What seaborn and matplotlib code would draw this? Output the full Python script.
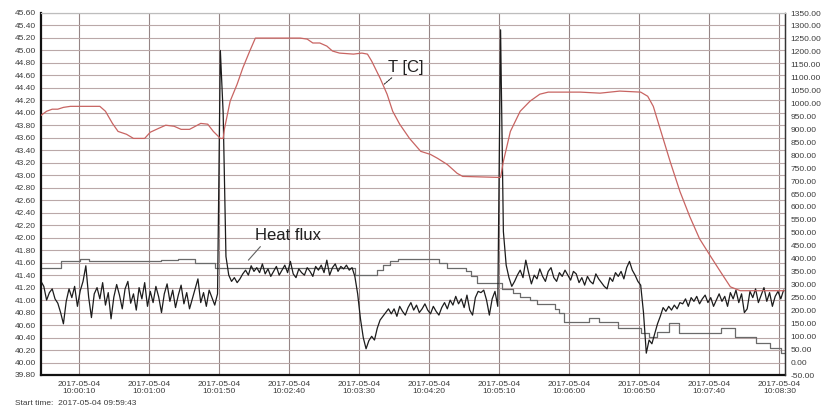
import numpy as np
import pandas as pd
import matplotlib
matplotlib.use("Agg")
import matplotlib.pyplot as plt
import seaborn as sns
from datetime import datetime

# ---- recording metadata -------------------------------------------------
DATE = "2017-05-04"
START_TIME = "09:59:43"
END_TIME = "10:08:34"
XTICK_TIMES = ["10:00:10", "10:01:00", "10:01:50", "10:02:40", "10:03:30",
               "10:04:20", "10:05:10", "10:06:00", "10:06:50", "10:07:40",
               "10:08:30"]

# ---- heat-flux channel (left scale), one sample every 2 s ----------------
FLUX_SAMPLE_S = 2
flux_values = [
    # steady before first exposure
    41.30, 41.22, 41.00, 41.12, 41.18, 41.02, 40.95, 40.80, 40.62, 40.98,
    41.18, 41.04, 41.22, 40.90, 41.15, 41.30, 41.55, 41.05, 40.72, 41.10,
    41.20, 41.02, 41.28, 40.92, 41.12, 40.70, 41.05, 41.25, 41.08, 40.86,
    41.18, 41.30, 40.95, 41.10, 40.84, 41.20, 41.02, 41.28, 40.90, 41.14,
    40.96, 41.22, 41.05, 40.80, 41.10, 41.26, 40.98, 41.16, 40.88, 41.08,
    41.24, 40.94, 41.12, 40.86, 41.02, 41.18, 41.34, 40.96, 41.12, 40.90,
    41.16, 41.04, 40.92, 41.10,
    # first spike
    45.00, 44.00, 41.70,
    # exposure plateau
    41.40, 41.30, 41.36, 41.28, 41.34, 41.42, 41.48, 41.40, 41.55, 41.46,
    41.52, 41.44, 41.58, 41.42, 41.50, 41.38, 41.46, 41.54, 41.40, 41.48,
    41.56, 41.44, 41.62, 41.42, 41.36, 41.50, 41.44, 41.40, 41.52, 41.46,
    41.38, 41.54, 41.48, 41.56, 41.44, 41.64, 41.40, 41.52, 41.58, 41.46,
    41.54, 41.50, 41.56, 41.48, 41.52,
    # drop and recovery
    41.38, 41.10, 40.70, 40.40, 40.22, 40.35, 40.42, 40.36, 40.55, 40.68,
    40.74, 40.80, 40.86,
    40.78, 40.86, 40.74, 40.90, 40.82, 40.76, 40.88, 40.96, 40.84, 40.92,
    40.80, 40.86, 40.94, 40.84, 40.78, 40.90, 40.82, 40.76, 40.88, 40.96,
    40.86, 41.00, 40.92, 41.06, 40.94, 41.02, 40.88, 41.08, 40.84, 40.76,
    41.04, 41.14, 41.12, 41.16, 41.00, 40.76, 41.02, 41.14, 40.90,
    # second spike
    45.33, 42.10, 41.56, 41.36,
    # second exposure plateau
    41.22, 41.30, 41.40, 41.48, 41.36, 41.64, 41.44, 41.26, 41.40, 41.34,
    41.50, 41.38, 41.30, 41.46, 41.52, 41.36, 41.30, 41.44, 41.38, 41.48,
    41.40, 41.32, 41.46, 41.42, 41.28, 41.36, 41.24, 41.38, 41.30, 41.26,
    41.42, 41.34, 41.28, 41.22, 41.18, 41.36, 41.30, 41.44, 41.38, 41.46,
    41.34, 41.52, 41.62, 41.48, 41.40, 41.30, 41.24,
    # drop and recovery
    40.80, 40.15, 40.36, 40.30, 40.46, 40.62, 40.74, 40.88, 40.82, 40.90,
    40.84,
    40.92, 40.86, 40.96, 40.94, 41.02, 40.90, 41.04, 40.98, 41.06, 40.94,
    41.02, 41.08, 40.96, 41.04, 40.90, 41.00, 41.10, 40.98, 41.06, 40.90,
    41.12, 41.02, 41.16, 40.96, 41.10, 40.80, 40.86, 41.14, 41.04, 41.18,
    40.96, 41.08, 41.20, 40.98, 41.12, 40.90, 41.06, 41.14, 41.02, 41.16,
]

# ---- reference channel (left scale), logged on change -------------------
ref_t = [0, 14, 28, 34, 86, 98, 110, 124, 224, 240, 244, 249, 255, 284,
         290, 303, 307, 311, 329, 337, 342, 349, 354, 367, 370, 373, 391,
         398, 412, 428, 434, 440, 448, 455, 485, 495, 510, 520, 528, 531]
ref_v = [41.52, 41.62, 41.66, 41.62, 41.64, 41.66, 41.60, 41.51, 41.40,
         41.48, 41.56, 41.63, 41.66, 41.59, 41.52, 41.46, 41.38, 41.27,
         41.18, 41.12, 41.05, 41.00, 40.94, 40.86, 40.79, 40.65, 40.71,
         40.65, 40.55, 40.47, 40.41, 40.49, 40.63, 40.47, 40.55, 40.41,
         40.31, 40.23, 40.15, 40.15]

# ---- furnace temperature T [C] (right scale) ----------------------------
temp_t = [0, 4, 8, 12, 16, 21, 42, 46, 51, 55, 61, 66, 74, 78, 84, 89, 95,
          100, 106, 114, 119, 123, 128, 130, 131, 135, 140, 144, 149, 153,
          185, 190, 194, 199, 204, 208, 213, 223, 229, 233, 236, 242, 247,
          251, 256, 263, 271, 278, 283, 290, 297, 301, 328, 330, 335, 342,
          349, 356, 362, 385, 399, 413, 428, 433, 437, 442, 449, 456, 463,
          470, 478, 485, 492, 499, 531]
temp_v = [954, 970, 978, 978, 985, 989, 989, 970, 923, 892, 881, 865, 865,
          889, 904, 916, 912, 900, 900, 923, 920, 892, 865, 865, 904, 1009,
          1075, 1137, 1203, 1253, 1253, 1249, 1234, 1234, 1222, 1203, 1195,
          1191, 1195, 1191, 1164, 1098, 1036, 970, 920, 865, 815, 803, 788,
          764, 730, 718, 714, 776, 892, 970, 1009, 1036, 1044, 1044, 1040,
          1048, 1044, 1028, 989, 900, 776, 660, 563, 477, 408, 349, 291,
          276, 276]


def seconds_from_start(clock):
    t0 = datetime.strptime(START_TIME, "%H:%M:%S")
    return (datetime.strptime(clock, "%H:%M:%S") - t0).total_seconds()


flux = pd.DataFrame({"t": np.arange(len(flux_values)) * FLUX_SAMPLE_S,
                     "v": flux_values})
ref = pd.DataFrame({"t": ref_t, "v": ref_v})
temp = pd.DataFrame({"t": temp_t, "T": temp_v})

sns.set_style("white")
plt.rcParams["font.family"] = ["Liberation Sans", "DejaVu Sans"]

LABEL_COLOR = "#3c3c3c"
GRID_H = "#baa8a8"
GRID_V = "#958585"

fig, ax = plt.subplots(figsize=(8.32, 4.15), dpi=100)
fig.subplots_adjust(left=41 / 832, right=785 / 832,
                    bottom=1 - 375 / 415, top=1 - 13 / 415)

sns.lineplot(data=ref, x="t", y="v", ax=ax, color="#6a6a6a", lw=0.9,
             drawstyle="steps-post", estimator=None, sort=False)
sns.lineplot(data=flux, x="t", y="v", ax=ax, color="#1c1c1c", lw=0.9,
             estimator=None, sort=False)

ax2 = ax.twinx()
sns.lineplot(data=temp, x="t", y="T", ax=ax2, color="#c86462", lw=0.9,
             estimator=None, sort=False)

# left scale
ax.set_ylim(39.8, 45.6)
left_ticks = np.round(np.arange(39.8, 45.6001, 0.2), 2)
ax.set_yticks(left_ticks)
ax.set_yticklabels([f"{v:.2f}" for v in left_ticks])

# right scale
ax2.set_ylim(-50, 1350)
right_ticks = np.arange(-50, 1351, 50)
ax2.set_yticks(right_ticks)
ax2.set_yticklabels([f"{v:.2f}" for v in right_ticks])

# time axis
ax.set_xlim(0, seconds_from_start(END_TIME))
ax.set_xticks([seconds_from_start(c) for c in XTICK_TIMES])
ax.set_xticklabels([f"{DATE}\n{c}" for c in XTICK_TIMES], linespacing=1.15)

for a in (ax, ax2):
    a.set_xlabel("")
    a.set_ylabel("")
ax.tick_params(axis="both", length=0, labelsize=6, labelcolor=LABEL_COLOR)
ax.tick_params(axis="y", pad=3.5)
ax.tick_params(axis="x", pad=4)
ax2.tick_params(axis="y", length=0, labelsize=6, labelcolor=LABEL_COLOR,
                pad=4)

ax.grid(True, axis="y", color=GRID_H, lw=0.8)
ax.grid(True, axis="x", color=GRID_V, lw=0.8)
ax2.grid(False)

ax.spines["left"].set_color("#111111")
ax.spines["left"].set_linewidth(1.6)
ax.spines["bottom"].set_color("#111111")
ax.spines["bottom"].set_linewidth(1.6)
ax2.spines["right"].set_color("#333333")
ax2.spines["right"].set_linewidth(1.0)
for a in (ax, ax2):
    a.spines["top"].set_color("#bdbdbd")
    a.spines["top"].set_linewidth(0.8)
ax2.spines["left"].set_visible(False)
ax2.spines["bottom"].set_visible(False)

# channel callouts
ax2.annotate("T [C]", xy=(245, 1075), xytext=(248, 1141),
             ha="left", va="center", fontsize=12, color="#202020",
             arrowprops=dict(arrowstyle="-", color="#303030", lw=0.8,
                             ls=(0, (1.5, 1.0)), shrinkA=0, shrinkB=0,
                             relpos=(0.2, 0.0)))
ax.annotate("Heat flux", xy=(148, 41.64), xytext=(153, 42.03),
            ha="left", va="center", fontsize=12, color="#202020",
            arrowprops=dict(arrowstyle="-", color="#606060", lw=0.8,
                            shrinkA=0, shrinkB=0, relpos=(0.12, 0.0)))

fig.text(15 / 832, 1 - 403 / 415, f"Start time:  {DATE} {START_TIME}",
         fontsize=6, color=LABEL_COLOR, ha="left", va="center")

fig.savefig("out.png", dpi=100, facecolor="white")
